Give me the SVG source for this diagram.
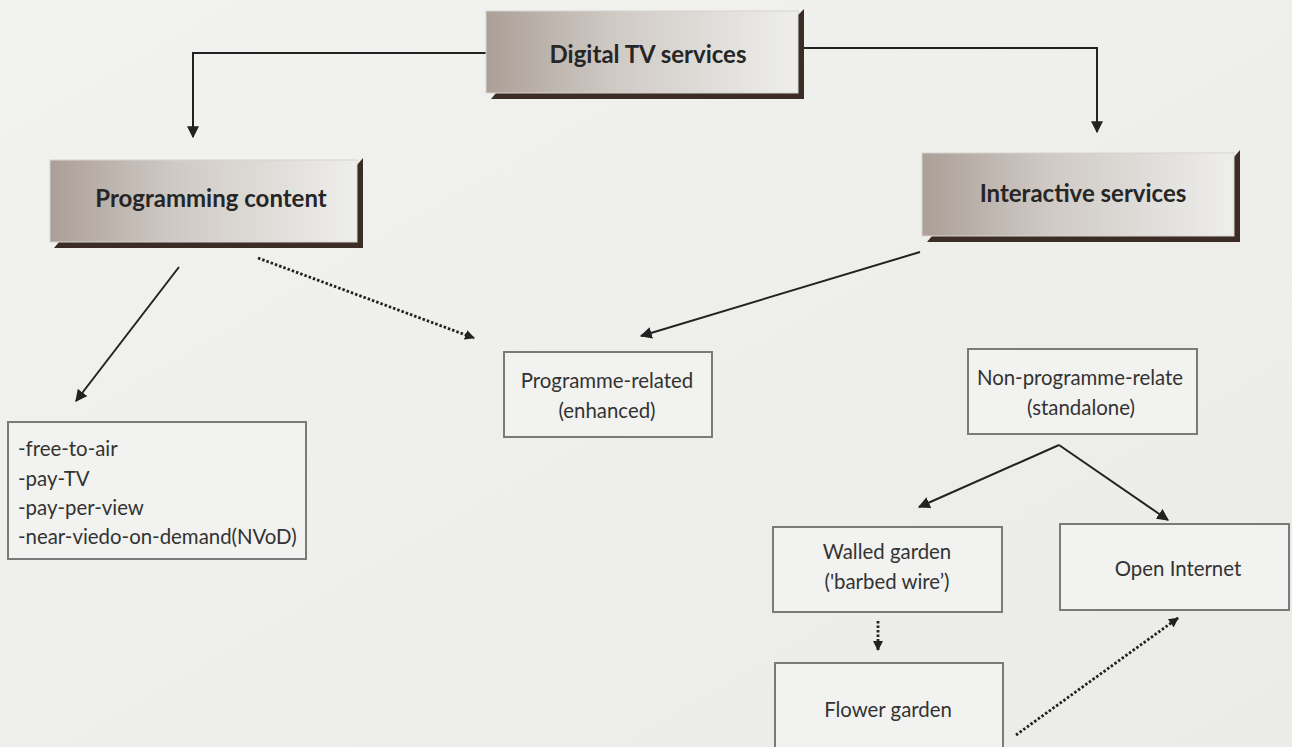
<svg xmlns="http://www.w3.org/2000/svg" width="1292" height="747" viewBox="0 0 1292 747">
<defs>
<linearGradient id="hdr" x1="0" y1="0" x2="1" y2="0">
<stop offset="0" stop-color="#ab9f97"/>
<stop offset="0.4" stop-color="#cfc9c4"/>
<stop offset="1" stop-color="#eeeeec"/>
</linearGradient>
<linearGradient id="bg" x1="0" y1="0" x2="1" y2="1">
<stop offset="0" stop-color="#f2f2f0"/>
<stop offset="1" stop-color="#ebebe8"/>
</linearGradient>
<marker id="ah" viewBox="0 0 10 10" refX="9" refY="5" markerWidth="10" markerHeight="10" markerUnits="userSpaceOnUse" orient="auto">
<path d="M0,0 L10,5 L0,10 z" fill="#222"/>
</marker>
<marker id="ahs" viewBox="0 0 10 10" refX="9" refY="5" markerWidth="12" markerHeight="12" markerUnits="userSpaceOnUse" orient="auto">
<path d="M0,0 L10,5 L0,10 z" fill="#222"/>
</marker>
</defs>
<style>
.hb{fill:url(#hdr);stroke:#d8d4d0;stroke-width:1}
.sh{fill:#3b2c25}
.ht{font-family:Lato,"Liberation Sans",sans-serif;font-weight:bold;font-size:24px;fill:#262626;text-anchor:middle}
.bx{fill:#f2f2f0;stroke:#7a7a7a;stroke-width:2}
.t{font-family:Lato,"Liberation Sans",sans-serif;font-size:20.4px;fill:#333}
.tc{text-anchor:middle}
.c{fill:none;stroke:#222;stroke-width:2}
.d{fill:none;stroke:#222;stroke-width:2.8;stroke-dasharray:2.5 2}
</style>
<rect width="1292" height="747" fill="url(#bg)"/>
<g id="connectors">
<polyline class="c" points="486,53 193,53 193,137" marker-end="url(#ahs)"/>
<polyline class="c" points="803,48 1097,48 1097,132" marker-end="url(#ahs)"/>
<line class="c" x1="179" y1="267" x2="76" y2="401" marker-end="url(#ahs)"/>
<line class="d" x1="258" y1="258" x2="474" y2="338" marker-end="url(#ah)"/>
<line class="c" x1="920" y1="252" x2="641" y2="336" marker-end="url(#ahs)"/>
<line class="c" x1="1059" y1="445" x2="919" y2="507" marker-end="url(#ahs)"/>
<line class="c" x1="1059" y1="445" x2="1168" y2="520" marker-end="url(#ahs)"/>
<line class="d" x1="878" y1="621" x2="878" y2="650" marker-end="url(#ah)"/>
<line class="d" x1="1016" y1="735" x2="1178" y2="618" marker-end="url(#ah)"/>
</g>
<g id="digital-tv">
<polygon class="sh" points="798,15 804,9 804,99 491,99 496,93 798,93"/>
<rect class="hb" x="486" y="11" width="312" height="82"/>
<text class="ht" x="648" y="63">Digital TV services</text>
</g>
<g id="programming-content">
<polygon class="sh" points="357,165 363,158 363,248 54,248 59,242 357,242"/>
<rect class="hb" x="50" y="160" width="307" height="82"/>
<text class="ht" x="211" y="207">Programming content</text>
</g>
<g id="interactive-services">
<polygon class="sh" points="1234,157 1240,150 1240,242 927,242 932,236 1234,236"/>
<rect class="hb" x="922" y="153" width="312" height="83"/>
<text class="ht" x="1083" y="202">Interactive services</text>
</g>
<g id="list">
<rect class="bx" x="8" y="422" width="298" height="137"/>
<text class="t" x="18" y="456">-free-to-air</text>
<text class="t" x="18" y="486">-pay-TV</text>
<text class="t" x="18" y="515">-pay-per-view</text>
<text class="t" x="18" y="544">-near-viedo-on-demand(NVoD)</text>
</g>
<g id="programme-related">
<rect class="bx" x="504" y="352" width="208" height="85"/>
<text class="t tc" x="607" y="388">Programme-related</text>
<text class="t tc" x="607" y="418">(enhanced)</text>
</g>
<g id="non-programme">
<rect class="bx" x="968" y="349" width="229" height="85"/>
<text class="t tc" x="1080" y="385">Non-programme-relate</text>
<text class="t tc" x="1081" y="415">(standalone)</text>
</g>
<g id="walled-garden">
<rect class="bx" x="773" y="527" width="229" height="85"/>
<text class="t tc" x="887" y="559">Walled garden</text>
<text class="t tc" x="887" y="589">('barbed wire’)</text>
</g>
<g id="open-internet">
<rect class="bx" x="1060" y="524" width="229" height="86"/>
<text class="t tc" x="1178" y="576">Open Internet</text>
</g>
<g id="flower-garden">
<rect class="bx" x="775" y="663" width="228" height="100"/>
<text class="t tc" x="888" y="717">Flower garden</text>
</g>
</svg>
